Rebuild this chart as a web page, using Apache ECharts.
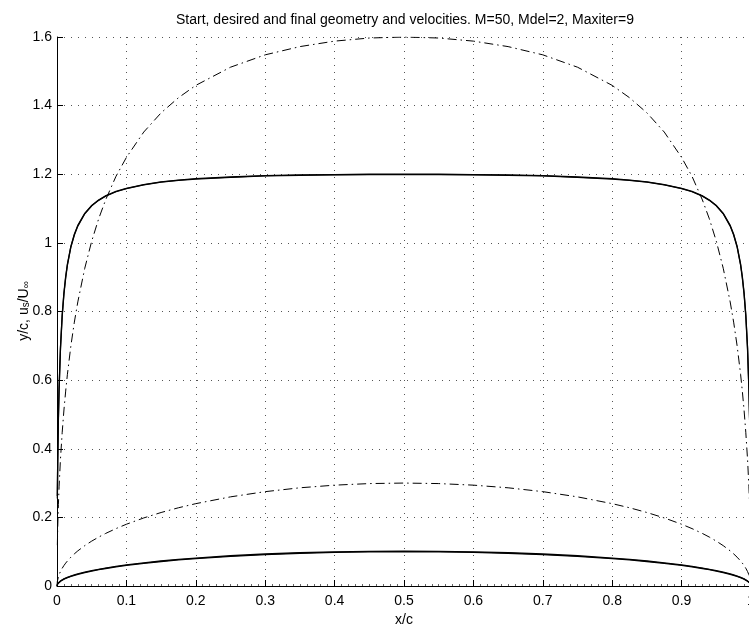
<!DOCTYPE html>
<html>
<head>
<meta charset="utf-8">
<script src="https://cdn.jsdelivr.net/npm/echarts@6/dist/echarts.min.js"></script>
<style>
html, body { margin: 0; padding: 0; background: #fff; }
#main { width: 749px; height: 626px; }
</style>
</head>
<body>
<div id="main"></div>
<script>
// x/c positions (clustered near leading and trailing edge)
var xs = [0, 0.0005, 0.001, 0.002, 0.003, 0.005, 0.0075, 0.01, 0.0125, 0.015, 0.02, 0.025, 0.03, 0.04, 0.05, 0.06, 0.07, 0.085, 0.1, 0.125, 0.15, 0.175, 0.2, 0.25, 0.3, 0.35, 0.4, 0.45, 0.5,
    0.55, 0.6, 0.65, 0.7, 0.75, 0.8, 0.825, 0.85, 0.875, 0.9, 0.915, 0.93, 0.94, 0.95, 0.96, 0.97, 0.975, 0.98, 0.985, 0.9875, 0.99, 0.9925, 0.995, 0.997, 0.998, 0.999, 0.9995, 1];

// start geometry (dash-dot)
var startGeom = [0, 0.0134, 0.0190, 0.0268, 0.0328, 0.0423, 0.0518, 0.0597, 0.0667, 0.0729, 0.0840, 0.0937, 0.1024, 0.1176, 0.1308, 0.1425, 0.1531, 0.1673, 0.1800, 0.1984, 0.2142, 0.2280, 0.2400, 0.2598, 0.2750, 0.2862, 0.2939, 0.2985, 0.3000,
    0.2985, 0.2939, 0.2862, 0.2750, 0.2598, 0.2400, 0.2280, 0.2142, 0.1984, 0.1800, 0.1673, 0.1531, 0.1425, 0.1308, 0.1176, 0.1024, 0.0937, 0.0840, 0.0729, 0.0667, 0.0597, 0.0518, 0.0423, 0.0328, 0.0268, 0.0190, 0.0134, 0];

// start velocity (dash-dot)
var startVel = [null, 0.119, 0.168, 0.237, 0.289, 0.370, 0.448, 0.513, 0.568, 0.617, 0.700, 0.769, 0.828, 0.926, 1.005, 1.070, 1.125, 1.194, 1.249, 1.323, 1.379, 1.423, 1.459, 1.512, 1.548, 1.572, 1.588, 1.597, 1.600,
    1.597, 1.588, 1.572, 1.548, 1.512, 1.459, 1.423, 1.379, 1.323, 1.249, 1.194, 1.125, 1.070, 1.005, 0.926, 0.828, 0.769, 0.700, 0.617, 0.568, 0.513, 0.448, 0.370, 0.289, 0.237, 0.168, 0.119, null];

// desired geometry and velocity (solid)
var desiredGeom = [0, 0.0045, 0.0063, 0.0089, 0.0109, 0.0141, 0.0173, 0.0199, 0.0222, 0.0243, 0.0280, 0.0312, 0.0341, 0.0392, 0.0436, 0.0475, 0.0510, 0.0558, 0.0600, 0.0661, 0.0714, 0.0760, 0.0800, 0.0866, 0.0917, 0.0954, 0.0980, 0.0995, 0.1000,
    0.0995, 0.0980, 0.0954, 0.0917, 0.0866, 0.0800, 0.0760, 0.0714, 0.0661, 0.0600, 0.0558, 0.0510, 0.0475, 0.0436, 0.0392, 0.0341, 0.0312, 0.0280, 0.0243, 0.0222, 0.0199, 0.0173, 0.0141, 0.0109, 0.0089, 0.0063, 0.0045, 0];
var desiredVel = [null, 0.262, 0.362, 0.491, 0.578, 0.696, 0.791, 0.855, 0.902, 0.938, 0.990, 1.025, 1.051, 1.086, 1.109, 1.125, 1.137, 1.150, 1.159, 1.170, 1.178, 1.183, 1.187, 1.192, 1.196, 1.198, 1.199, 1.200, 1.200,
    1.200, 1.199, 1.198, 1.196, 1.192, 1.187, 1.183, 1.178, 1.170, 1.159, 1.150, 1.137, 1.125, 1.109, 1.086, 1.051, 1.025, 0.990, 0.938, 0.902, 0.855, 0.791, 0.696, 0.578, 0.491, 0.362, 0.262, null];

// final geometry and velocity after 9 iterations (solid)
var finalGeom = [0, 0.0050, 0.0068, 0.0094, 0.0115, 0.0147, 0.0179, 0.0206, 0.0229, 0.0251, 0.0289, 0.0322, 0.0351, 0.0402, 0.0447, 0.0486, 0.0522, 0.0570, 0.0613, 0.0675, 0.0728, 0.0775, 0.0815, 0.0881, 0.0932, 0.0969, 0.0995, 0.1010, 0.1015,
    0.1010, 0.0995, 0.0969, 0.0932, 0.0881, 0.0815, 0.0775, 0.0728, 0.0675, 0.0613, 0.0570, 0.0522, 0.0486, 0.0447, 0.0402, 0.0351, 0.0322, 0.0289, 0.0251, 0.0229, 0.0206, 0.0179, 0.0147, 0.0115, 0.0094, 0.0068, 0.0050, 0];
var finalVel = [null, 0.255, 0.355, 0.484, 0.572, 0.691, 0.787, 0.851, 0.898, 0.935, 0.988, 1.023, 1.049, 1.085, 1.108, 1.124, 1.136, 1.149, 1.158, 1.169, 1.177, 1.182, 1.186, 1.191, 1.195, 1.197, 1.198, 1.199, 1.199,
    1.199, 1.198, 1.197, 1.195, 1.191, 1.186, 1.182, 1.177, 1.169, 1.158, 1.149, 1.136, 1.124, 1.108, 1.085, 1.049, 1.023, 0.988, 0.935, 0.898, 0.851, 0.787, 0.691, 0.572, 0.484, 0.355, 0.255, null];

var titleText = 'Start, desired and final geometry and velocities. M=50, Mdel=2, Maxiter=9';

function pairs(ys) {
    var out = [];
    for (var i = 0; i < xs.length; i++) {
        if (ys[i] !== null) out.push([xs[i], ys[i]]);
    }
    return out;
}

var chartDom = document.getElementById('main');
var myChart = echarts.init(chartDom);
var font = 'Liberation Sans, Arial, Helvetica, sans-serif';
var dashDot = [9, 4, 1.5, 4];
var gridDots = { color: '#555', width: 1, type: [1, 6] };

function line(name, ys, type, width) {
    return {
        name: name,
        type: 'line',
        data: pairs(ys),
        showSymbol: false,
        symbol: 'none',
        clip: true,
        lineStyle: { color: '#000', width: width, type: type },
        z: 3
    };
}

var option = {
    animation: false,
    backgroundColor: '#fff',
    textStyle: { fontFamily: font },
    grid: { left: 57, right: -2, top: 37, bottom: 40, outerBoundsMode: 'none', containLabel: false },
    graphic: [{
        type: 'text',
        x: 405,
        y: 20,
        style: {
            text: titleText,
            font: '14px ' + font,
            fill: '#000',
            align: 'center',
            verticalAlign: 'middle'
        }
    }, {
        // y axis title with subscripts
        type: 'text',
        x: 24,
        y: 311,
        rotation: Math.PI / 2,
        style: {
            text: '{n|y/c, u}{s|s}{n|/U}{s|∞}',
            align: 'center',
            verticalAlign: 'middle',
            rich: {
                n: { fontSize: 14, fill: '#000', fontFamily: font, lineHeight: 14, verticalAlign: 'top' },
                s: { fontSize: 10, fill: '#000', fontFamily: font, lineHeight: 10, verticalAlign: 'bottom', padding: [8, 0, 0, 0] }
            }
        }
    }],
    xAxis: {
        type: 'value',
        min: 0,
        max: 1,
        interval: 0.1,
        name: 'x/c',
        nameLocation: 'middle',
        nameGap: 25,
        nameTextStyle: { color: '#000', fontSize: 14, fontFamily: font },
        axisLine: { show: true, onZero: false, lineStyle: { color: '#000', width: 1 } },
        axisTick: { show: true, inside: true, length: 6, lineStyle: { color: '#000' } },
        minorTick: { show: true, splitNumber: 10, length: 2, lineStyle: { color: '#666' } },
        axisLabel: { color: '#000', fontSize: 14, margin: 8, fontFamily: font },
        splitLine: { show: true, lineStyle: gridDots }
    },
    yAxis: {
        type: 'value',
        min: 0,
        max: 1.6,
        interval: 0.2,
        axisLine: { show: true, lineStyle: { color: '#000', width: 1 } },
        axisTick: { show: true, inside: true, length: 6, lineStyle: { color: '#000' } },
        axisLabel: { color: '#000', fontSize: 14, margin: 5, fontFamily: font },
        splitLine: { show: true, lineStyle: gridDots }
    },
    series: [
        line('Start velocity', startVel, dashDot, 1),
        line('Start geometry', startGeom, dashDot, 1),
        line('Desired velocity', desiredVel, 'solid', 1.3),
        line('Final velocity', finalVel, 'solid', 1.3),
        line('Desired geometry', desiredGeom, 'solid', 1.3),
        line('Final geometry', finalGeom, 'solid', 1.3)
    ]
};

option && myChart.setOption(option);
</script>
</body>
</html>
